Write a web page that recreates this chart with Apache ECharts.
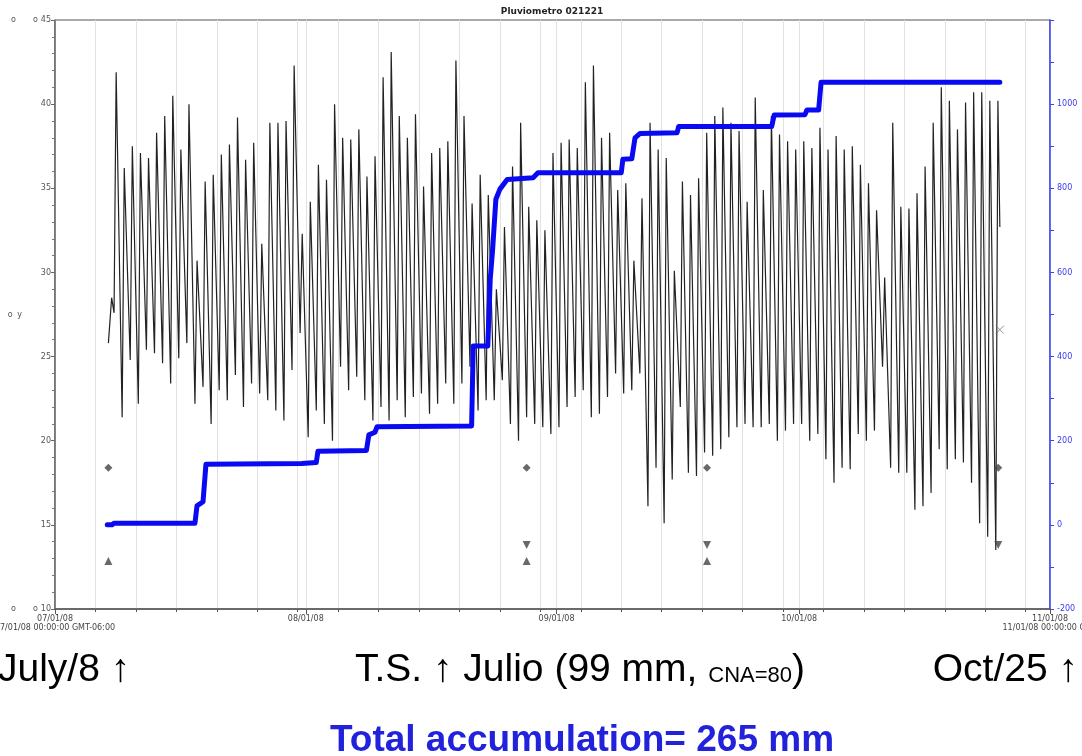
<!DOCTYPE html>
<html lang="es">
<head>
<meta charset="UTF-8">
<title>Pluviometro 021221</title>
<style>
  html, body { margin: 0; padding: 0; background: #fff; }
  #main { width: 1082px; height: 756px; }
</style>
</head>
<body>
<div id="main"></div>
<script src="https://cdn.jsdelivr.net/npm/echarts@6/dist/echarts.min.js"></script>
<script>
// x en dias desde 07/01/08 00:00
var monthTicks = [0, 31, 62, 92, 123];
var monthLabels = ['07/01/08\n07/01/08 00:00:00 GMT-06:00', '08/01/08', '09/01/08', '10/01/08', '11/01/08\n11/01/08 00:00:00 GMT'];

// temperatura: maximos diarios desde 07/08, minimos de la madrugada siguiente
var firstPeakDay = 7;
var dailyMax = [
  41.9, 36.2, 37.5, 37.1, 36.8, 38.3, 39.3, 40.5, 37.3, 40.0,
  30.7, 35.4, 35.8, 37.0, 37.6, 39.2, 36.7, 37.7, 31.7, 38.9,
  38.9, 39.0, 42.3, 32.3, 34.2, 36.4, 35.5, 40.0, 38.0, 37.9,
  38.5, 35.7, 36.9, 41.6, 43.1, 39.3, 38.0, 39.4, 35.1, 37.1,
  37.4, 37.8, 42.6, 39.3, 34.1, 35.8, 34.6, 29.0, 32.7, 36.3,
  38.9, 33.9, 33.1, 32.5, 37.1,
  37.7, 37.9, 37.4, 41.3, 42.3, 38.0, 38.3, 34.9, 35.3, 30.7,
  34.4, 38.9, 37.3, 36.8, 30.1, 35.4, 34.6, 35.6, 38.3, 39.3,
  39.8, 38.9, 38.4, 34.2, 40.4, 34.9, 39.3, 38.2, 37.8, 37.3,
  37.8, 37.4, 38.6, 37.3, 38.1, 37.3, 37.5, 36.4, 35.3, 33.7,
  29.7, 38.9, 33.9, 33.8, 34.7, 36.3, 38.9, 41.0, 40.2, 38.5,
  40.1, 40.7, 40.7, 40.2, 40.2
];
var dailyMin = [
  21.4, 24.8, 22.2, 25.4, 25.2, 24.6, 23.4, 24.9, 25.8, 22.2,
  23.2, 21.0, 23.0, 22.4, 23.9, 22.0, 23.4, 22.8, 22.4, 21.8,
  21.2, 24.2, 26.4, 20.2, 21.8, 21.0, 20.0, 24.4, 23.0, 23.8,
  22.4, 21.2, 22.0, 21.2, 22.4, 21.4, 22.6, 22.8, 21.6, 22.2,
  23.4, 22.2, 23.4, 24.4, 21.8, 22.4, 22.4, 23.6, 21.0, 20.0,
  21.4, 21.0, 20.8, 20.4,
  20.8, 22.0, 22.6, 23.0, 21.4, 21.6, 22.6, 24.0, 22.8, 23.0,
  24.0, 16.1, 18.4, 15.1, 17.7, 22.0, 18.1, 17.9, 19.3, 19.1,
  19.5, 20.2, 20.8, 21.0, 20.8, 20.8, 21.0, 20.0, 20.6, 21.0,
  21.0, 20.0, 20.4, 18.9, 17.5, 18.4, 18.3, 20.4, 20.0, 20.6,
  24.4, 18.4, 18.1, 18.1, 15.9, 16.1, 16.9, 19.5, 18.3, 18.9,
  18.7, 17.5, 15.1, 14.3, 13.5
];
var leadIn = [[6.6, 25.8], [7.0, 28.5], [7.3, 27.6]];
var tailOut = [[116.8, 32.7]];

// acumulado del pluviometro (eje derecho)
var rainDays = [6.46, 7.05, 7.3, 17.3, 17.55, 18.3, 18.66, 30.5, 32.3, 32.5, 38.5, 38.8, 39.55, 39.8,
  51.5, 51.7, 53.5, 53.8, 54.1, 54.5, 55.0, 55.9, 59.1, 59.7, 70.0, 70.2, 71.3, 71.7, 72.3,
  76.9, 77.1, 88.6, 88.9, 92.7, 92.95, 94.4, 94.7, 116.8];
var rainTotal = [0, 0, 4, 4, 45, 55, 144, 146, 148, 175, 177, 214, 220, 233,
  235, 425, 425, 583, 655, 774, 798, 821, 825, 837, 837, 869, 870, 920, 930,
  932, 947, 947, 974, 975, 986, 986, 1052, 1052];

// marcadores de eventos
var diamondMarks = [[6.6, 18.4], [58.3, 18.4], [80.6, 18.4], [116.6, 18.4]];
var downMarks = [[58.3, 13.8], [80.6, 13.8], [116.6, 13.8]];
var upMarks = [[6.6, 12.85], [58.3, 12.85], [80.6, 12.85]];
var crossMarks = [[116.8, 26.6]];

var tempData = leadIn.slice();
for (var i = 0; i < dailyMax.length; i++) {
  if (i > 0) tempData.push([firstPeakDay + i + 0.3, dailyMin[i - 1]]);
  tempData.push([firstPeakDay + i + 0.56, dailyMax[i]]);
}
tempData = tempData.concat(tailOut);

var rainData = [];
for (var j = 0; j < rainDays.length; j++) {
  rainData.push([rainDays[j], rainTotal[j]]);
}

var axisFont = 'DejaVu Sans';
var bigFont = 'Liberation Sans';
var blueAxis = '#4040ff';

var chart = echarts.init(document.getElementById('main'));
var option = {
  animation: false,
  title: [
    {
      text: 'Pluviometro 021221', left: 552, top: 7, padding: 0, textAlign: 'center',
      textStyle: { fontFamily: axisFont, fontSize: 9, fontWeight: 'bold', color: '#222' }
    },
    {
      text: 'July/8 ↑', left: -2, top: 651, padding: 0,
      textStyle: { fontFamily: bigFont, fontSize: 39, fontWeight: 'normal', color: '#000' }
    },
    {
      text: '{a|T.S. ↑ Julio (99 mm, }{b|CNA=80}{a|)}', left: 355, top: 651, padding: 0,
      textStyle: {
        fontWeight: 'normal',
        rich: {
          a: { fontFamily: bigFont, fontSize: 39, fontWeight: 'normal', color: '#000' },
          b: { fontFamily: bigFont, fontSize: 22, fontWeight: 'normal', color: '#000', verticalAlign: 'bottom', padding: [0, 0, 3, 0] }
        }
      }
    },
    {
      text: 'Oct/25 ↑', right: 4, top: 651, padding: 0,
      textStyle: { fontFamily: bigFont, fontSize: 39, fontWeight: 'normal', color: '#000' }
    },
    {
      text: 'Total accumulation= 265 mm', left: 582, top: 722, padding: 0, textAlign: 'center',
      textStyle: { fontFamily: bigFont, fontSize: 37, fontWeight: 'bold', color: '#2222dd' }
    }
  ],
  grid: {
    left: 55, right: 32, top: 20, bottom: 147,
    outerBoundsMode: 'none', containLabel: false,
    show: true, borderColor: '#555', borderWidth: 1
  },
  xAxis: [
    {
      type: 'value', min: 0, max: 123, interval: 5, position: 'bottom',
      axisLine: { show: true, onZero: false, lineStyle: { color: '#555', width: 1.5 } },
      axisTick: { show: true, length: 3, lineStyle: { color: '#555' } },
      axisLabel: { show: false },
      splitLine: { show: true, lineStyle: { color: '#e2e2e2', width: 1 } }
    },
    {
      type: 'value', min: 0, max: 123, position: 'bottom',
      axisLine: { show: false, onZero: false },
      axisTick: { show: true, length: 5, customValues: monthTicks, lineStyle: { color: '#555' } },
      axisLabel: {
        customValues: monthTicks, fontFamily: axisFont, fontSize: 8, color: '#444',
        lineHeight: 9, margin: 5,
        formatter: function (v) {
          var k = monthTicks.indexOf(v);
          return k >= 0 ? monthLabels[k] : '';
        }
      },
      splitLine: { show: true, lineStyle: { color: '#e2e2e2', width: 1 } }
    }
  ],
  yAxis: [
    {
      type: 'value', min: 10, max: 45, interval: 5, position: 'left',
      name: '{o|o} y', nameLocation: 'middle', nameRotate: 0, nameGap: 33,
      nameMoveOverlap: false,
      nameTextStyle: {
        fontFamily: axisFont, fontSize: 8, color: '#555',
        rich: { o: { fontSize: 8, color: '#555', padding: [0, 2, 0, 0] } }
      },
      axisLine: { show: true, onZero: false, lineStyle: { color: '#666', width: 1.5 } },
      axisTick: { show: true, length: 4, lineStyle: { color: '#666' } },
      minorTick: { show: true, splitNumber: 5, length: 3, lineStyle: { color: '#777' } },
      splitLine: { show: false },
      axisLabel: {
        fontFamily: axisFont, fontSize: 8, color: '#555', margin: 4,
        formatter: function (v) {
          if (v === 45 || v === 10) return '{a|o}{b|o}' + v;
          return v;
        },
        rich: {
          a: { fontSize: 8, color: '#555', padding: [0, 17, 0, 0] },
          b: { fontSize: 8, color: '#555', padding: [0, 3, 0, 0] }
        }
      }
    },
    {
      type: 'value', min: -200, max: 1200, interval: 200, position: 'right',
      axisLine: { show: true, onZero: false, lineStyle: { color: blueAxis, width: 1.5 } },
      axisTick: { show: true, length: 4, lineStyle: { color: blueAxis } },
      minorTick: { show: true, splitNumber: 2, length: 4, lineStyle: { color: blueAxis } },
      splitLine: { show: false },
      axisLabel: {
        fontFamily: axisFont, fontSize: 8, color: '#3a3aee', margin: 7,
        showMaxLabel: false,
        formatter: function (v) { return String(v); }
      }
    }
  ],
  series: [
    {
      name: 'y', type: 'line', xAxisIndex: 0, yAxisIndex: 0,
      data: tempData, showSymbol: false, smooth: false,
      lineStyle: { color: '#222', width: 1.2 },
      z: 2
    },
    {
      name: 'Pluviometro', type: 'line', xAxisIndex: 0, yAxisIndex: 1,
      data: rainData, showSymbol: false, smooth: false,
      lineStyle: { color: '#0a0af2', width: 5, cap: 'round', join: 'round' },
      z: 3
    },
    {
      type: 'scatter', xAxisIndex: 0, yAxisIndex: 0, data: diamondMarks,
      symbol: 'diamond', symbolSize: 8, itemStyle: { color: '#444' }, z: 4
    },
    {
      type: 'scatter', xAxisIndex: 0, yAxisIndex: 0, data: downMarks,
      symbol: 'triangle', symbolRotate: 180, symbolSize: 8, itemStyle: { color: '#444' }, z: 4
    },
    {
      type: 'scatter', xAxisIndex: 0, yAxisIndex: 0, data: upMarks,
      symbol: 'triangle', symbolSize: 8, itemStyle: { color: '#444' }, z: 4
    },
    {
      type: 'scatter', xAxisIndex: 0, yAxisIndex: 0, data: crossMarks,
      symbol: 'path://M0,0L10,10M10,0L0,10', symbolSize: 8,
      itemStyle: { color: 'none', borderColor: '#777', borderWidth: 1 }, z: 4
    }
  ]
};
chart.setOption(option);
</script>
</body>
</html>
